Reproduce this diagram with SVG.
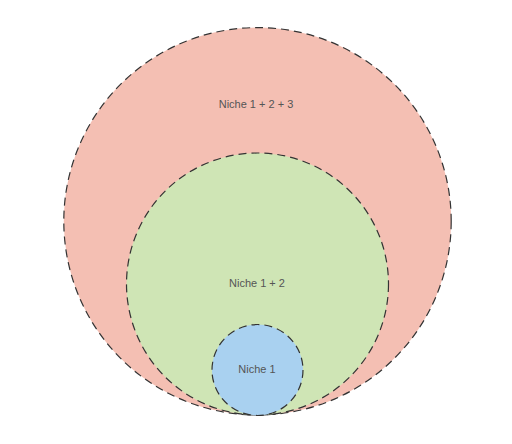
<svg xmlns="http://www.w3.org/2000/svg" width="512" height="444" viewBox="0 0 512 444">
<style>
.c{stroke:#333;stroke-width:1.2;stroke-dasharray:8 5}
.t{font-family:"Liberation Sans",Arial,sans-serif;font-size:11px;fill:#555;text-anchor:middle;dominant-baseline:central}
</style>
<rect width="512" height="444" fill="#fff"/>
<g id="niche123">
<circle class="c" cx="257.5" cy="221.3" r="193.7" fill="#f4bfb3"/>
<text class="t" x="256" y="104">Niche 1 + 2 + 3</text>
</g>
<g id="niche12">
<circle class="c" cx="257.5" cy="284" r="131" fill="#cfe5b5"/>
<text class="t" x="257" y="283">Niche 1 + 2</text>
</g>
<g id="niche1">
<circle class="c" cx="257.5" cy="370" r="45.5" fill="#a9d1f0"/>
<text class="t" x="257" y="369">Niche 1</text>
</g>
<g id="connectors"/>
</svg>
